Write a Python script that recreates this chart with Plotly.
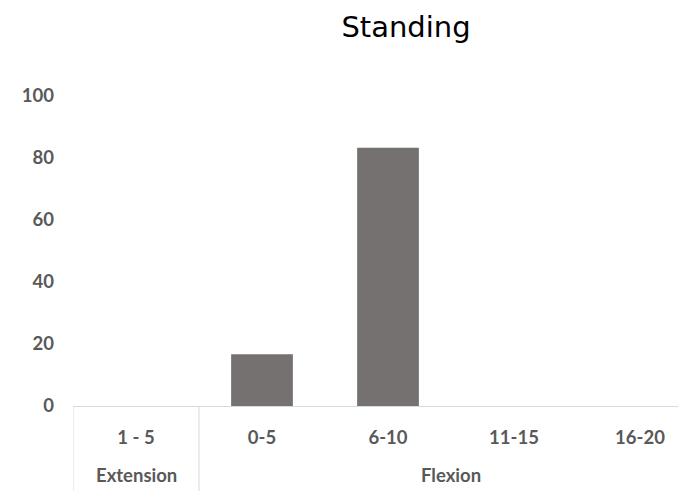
import plotly.graph_objects as go

groups = ["Extension", "Flexion", "Flexion", "Flexion", "Flexion"]
ranges = ["1 - 5", "0-5", "6-10", "11-15", "16-20"]
values = [0, 16.7, 83.3, 0, 0]
y_ticks = [0, 20, 40, 60, 80, 100]

fig = go.Figure(go.Bar(
    x=ranges, y=values,
    marker=dict(color="#767171", line=dict(width=0)),
    width=0.49,
))

fam = "Lato, Liberation Sans, Arial, sans-serif"
lab_font = dict(family=fam, size=18.5, color="#595959", weight="bold")

# group labels and dividers derived from the groups list (category index space)
plot_h = 483 - 88 - 85
bottom = -85 / plot_h
start = 0
boundaries = [-0.5]
for i in range(1, len(groups) + 1):
    if i == len(groups) or groups[i] != groups[start]:
        fig.add_annotation(x=(start + i - 1) / 2, xref="x", y=(398 - 467) / plot_h, yref="paper",
                           text=groups[start], showarrow=False, font=lab_font,
                           xanchor="center", yanchor="middle")
        if i < len(groups):
            boundaries.append(i - 0.5)
        start = i
for b in boundaries:
    fig.add_shape(type="line", x0=b, x1=b, xref="x", y0=0, y1=bottom, yref="paper",
                  line=dict(color="#d9d9d9", width=1))

# page body has an 8px margin, so the figure is 8px smaller than the window
fig.update_layout(
    width=678, height=483,
    paper_bgcolor="white", plot_bgcolor="white",
    margin=dict(l=65, r=0, t=88, b=85),
    showlegend=False,
    title=dict(text="Standing", x=398/678, xanchor="center", y=1-19/483, yanchor="middle",
               font=dict(family="DejaVu Sans, Verdana, sans-serif", size=29, color="black")),
    xaxis=dict(type="category", range=[-0.5, 4.365], showline=True, linecolor="#d9d9d9",
               linewidth=1, tickfont=lab_font, showgrid=False, ticks="", ticklabelstandoff=15),
    yaxis=dict(range=[0, 100], tickvals=y_ticks, showgrid=False, zeroline=False, showline=False,
               tickfont=lab_font, ticklabelstandoff=18),
    bargap=0.51,
)
fig.write_html("out.html")
